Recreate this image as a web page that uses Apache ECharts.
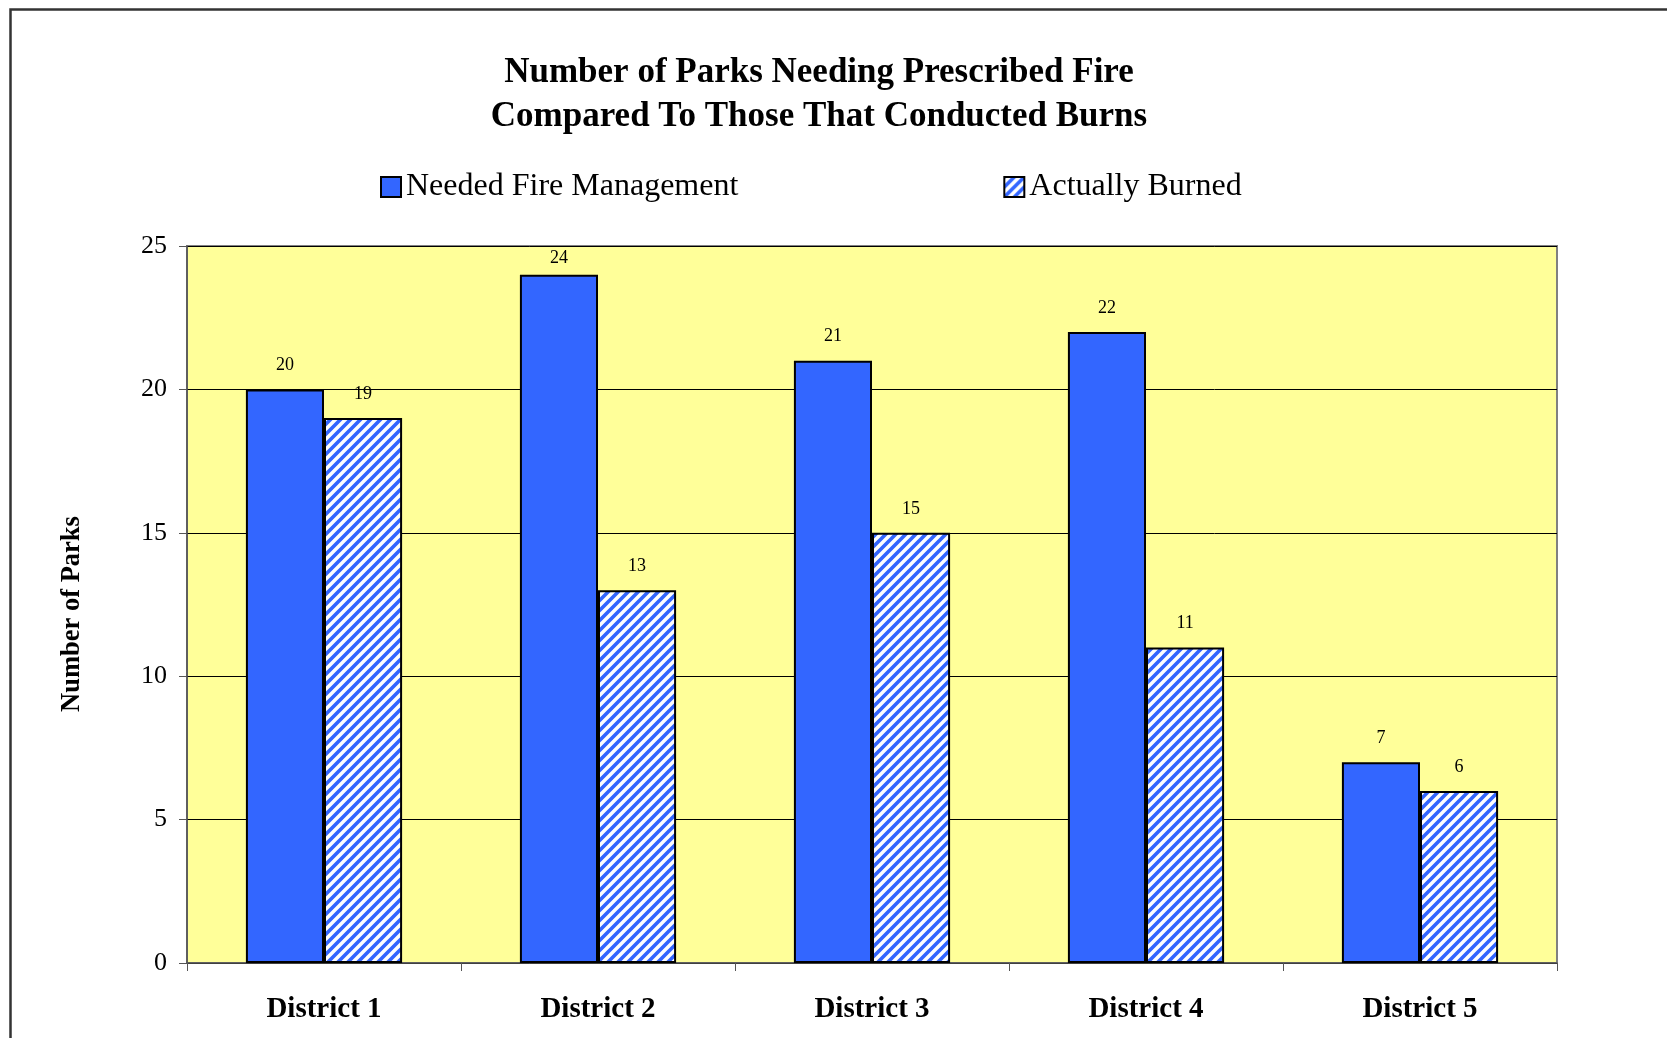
<!DOCTYPE html>
<html>
<head>
<meta charset="utf-8">
<script src="https://cdn.jsdelivr.net/npm/echarts@6/dist/echarts.min.js"></script>
<style>
html,body{margin:0;padding:0;background:#fff;}
#chart{width:1667px;height:1038px;}
</style>
</head>
<body>
<div id="chart"></div>
<script>
const categories = ['District 1', 'District 2', 'District 3', 'District 4', 'District 5'];
const neededFire = [20, 24, 21, 22, 7];
const actuallyBurned = [19, 13, 15, 11, 6];
const seriesNames = ['Needed Fire Management', 'Actually Burned'];
const yTicks = { min: 0, max: 25, interval: 5 };

const BLUE = '#3366FF';
const FONT = '"Liberation Serif", "Times New Roman", serif';

function makeHatch() {
  const c = document.createElement('canvas');
  c.width = 10; c.height = 10;
  const ctx = c.getContext('2d');
  ctx.fillStyle = '#ffffff';
  ctx.fillRect(0, 0, 10, 10);
  ctx.strokeStyle = BLUE;
  ctx.lineWidth = 3.6;
  ctx.beginPath();
  ctx.moveTo(-5, 5); ctx.lineTo(5, -5);
  ctx.moveTo(0, 10); ctx.lineTo(10, 0);
  ctx.moveTo(5, 15); ctx.lineTo(15, 5);
  ctx.stroke();
  return c;
}
const hatch = { image: makeHatch(), repeat: 'repeat' };

// labels near the top of the plot are pulled closer to the bar (kept inside the plot)
function withLabels(values) {
  return values.map(v => v > yTicks.max - 2 ? { value: v, label: { distance: 7 } } : v);
}

const chart = echarts.init(document.getElementById('chart'), null, { renderer: 'canvas' });

const labelCfg = {
  show: true, position: 'top', distance: 15,
  fontFamily: FONT, fontSize: 18, color: '#000'
};

chart.setOption({
  backgroundColor: '#ffffff',
  animation: false,
  textStyle: { fontFamily: FONT },
  title: {
    text: 'Number of Parks Needing Prescribed Fire\nCompared To Those That Conducted Burns',
    left: 814, top: 46, textAlign: 'center',
    textStyle: { fontFamily: FONT, fontSize: 35, fontWeight: 'bold', color: '#000', lineHeight: 44 }
  },
  legend: {
    left: 380, top: 171, padding: 0,
    itemWidth: 20, itemHeight: 20, itemGap: 265,
    icon: 'rect',
    textStyle: { fontFamily: FONT, fontSize: 32, color: '#000' },
    data: seriesNames
  },
  grid: {
    left: 187, right: 110, top: 246, bottom: 75,
    show: true, backgroundColor: '#FFFF99', borderColor: '#808080', borderWidth: 2
  },
  xAxis: {
    type: 'category',
    data: categories,
    axisLine: { show: true, lineStyle: { color: '#555', width: 1.5 } },
    axisTick: { show: true, length: 8, lineStyle: { color: '#555' } },
    axisLabel: { fontFamily: FONT, fontSize: 29, fontWeight: 'bold', color: '#000', margin: 32 },
    splitLine: { show: false }
  },
  yAxis: {
    type: 'value',
    min: yTicks.min, max: yTicks.max, interval: yTicks.interval,
    axisLine: { show: true, lineStyle: { color: '#555', width: 1.5 } },
    axisTick: { show: true, length: 8, lineStyle: { color: '#555' } },
    axisLabel: { fontFamily: FONT, fontSize: 26, color: '#000', margin: 20 },
    splitLine: { show: true, lineStyle: { color: '#000', width: 1 } }
  },
  graphic: [
    {
      type: 'rect', left: 8, top: 7, z: -10, silent: true,
      shape: { width: 1700, height: 1100 },
      style: { fill: null, stroke: '#333', lineWidth: 2.5 }
    },
    {
      type: 'text', x: 72, y: 614, rotation: Math.PI / 2, silent: true,
      style: {
        text: 'Number of Parks', fontFamily: FONT, fontSize: 26.5, fontWeight: 'bold',
        fill: '#000', align: 'center', verticalAlign: 'middle'
      }
    }
  ],
  series: [
    {
      name: seriesNames[0], type: 'bar', data: withLabels(neededFire),
      barGap: '0%', barCategoryGap: '43%',
      itemStyle: { color: BLUE, borderColor: '#000', borderWidth: 2 },
      label: labelCfg
    },
    {
      name: seriesNames[1], type: 'bar', data: withLabels(actuallyBurned),
      barGap: '0%', barCategoryGap: '43%',
      itemStyle: { color: hatch, borderColor: '#000', borderWidth: 2 },
      label: labelCfg
    }
  ]
});
</script>
</body>
</html>
